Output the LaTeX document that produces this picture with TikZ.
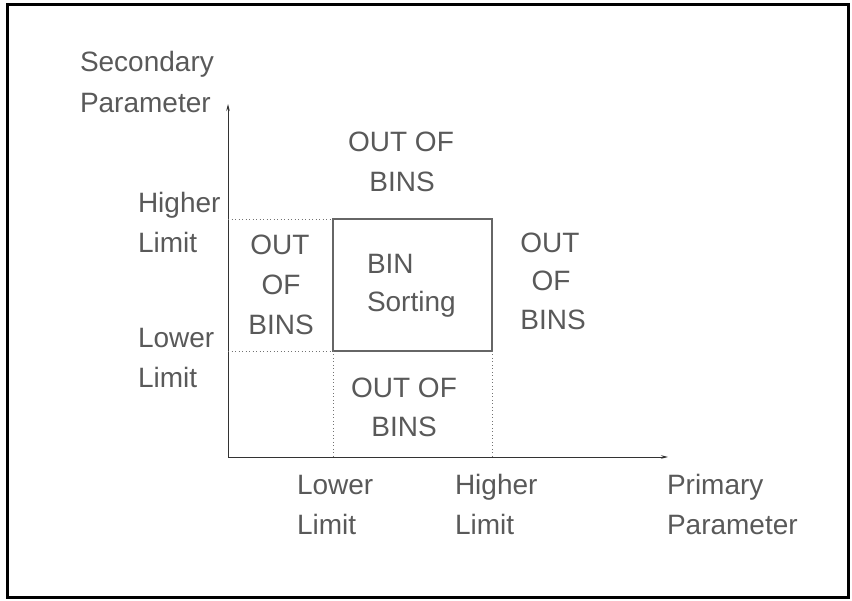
\documentclass[tikz,border=0pt]{standalone}
\usepackage{fontspec}
\setmainfont{Liberation Sans}
\usetikzlibrary{arrows.meta}
\tikzset{
  lbl/.style={inner sep=0pt, outer sep=0pt, text=black!65, font=\fontsize{28}{28}\selectfont},
  lw/.style={lbl, anchor=base west},
  lc/.style={lbl, anchor=base},
  axis/.style={draw=black!80, line width=0.9pt, -{Stealth[length=7pt,width=3.5pt]}},
  dots/.style={draw=black!55, line width=0.9pt, dash pattern=on 0.9pt off 2.6pt},
  binbox/.style={draw=black!60, line width=1.1pt, inner sep=0pt, outer sep=0pt, minimum width=159pt, minimum height=132pt}
}
\begin{document}
\begin{tikzpicture}[x=1pt,y=-1pt]
\useasboundingbox (0,0) rectangle (852,601);
\draw[line width=3pt, black] (7,5) rectangle (848,597);

% axes
\coordinate (o) at (228,457);
\coordinate (ytip) at (228,104);
\coordinate (xtip) at (668,457);
\draw[axis] (o) -- (ytip);
\draw[axis] (o) -- (xtip);

% bin box
\node[binbox] (bin) at (412.5,285) {};
\coordinate (yH) at (228,219);
\coordinate (yL) at (228,351);
\coordinate (xL) at (333,457);
\coordinate (xH) at (492,457);
\draw[dots] (yH) -- (bin.north west);
\draw[dots] (yL) -- (bin.south west);
\draw[dots] (bin.south west) -- (xL);
\draw[dots] (bin.south east) -- (xH);

% axis labels
\node[lw] (sec1) at (80,72) {Secondary};
\node[lw] (sec2) at (80,113) {Parameter};
\node[lw] (pri1) at (667,495) {Primary};
\node[lw] (pri2) at (667,535) {Parameter};

% limit labels
\node[lw] (hl1) at (138,213) {Higher};
\node[lw] (hl2) at (138,253) {Limit};
\node[lw] (ll1) at (138,348) {Lower};
\node[lw] (ll2) at (138,388) {Limit};
\node[lw] (bl1) at (297,495) {Lower};
\node[lw] (bl2) at (297,535) {Limit};
\node[lw] (bh1) at (455,495) {Higher};
\node[lw] (bh2) at (455,535) {Limit};

% bin sorting
\node[lw] (bs1) at (367,274) {BIN};
\node[lw] (bs2) at (367,312) {Sorting};

% out of bins regions
\node[lc] (t1) at (401,152) {OUT OF};
\node[lc] (t2) at (402,192) {BINS};
\node[lc] (l1) at (280,255) {OUT};
\node[lc] (l2) at (281,295) {OF};
\node[lc] (l3) at (281,335) {BINS};
\node[lc] (r1) at (550,253) {OUT};
\node[lc] (r2) at (551,291) {OF};
\node[lc] (r3) at (553,330) {BINS};
\node[lc] (b1) at (404,398) {OUT OF};
\node[lc] (b2) at (404,437) {BINS};
\end{tikzpicture}
\end{document}
